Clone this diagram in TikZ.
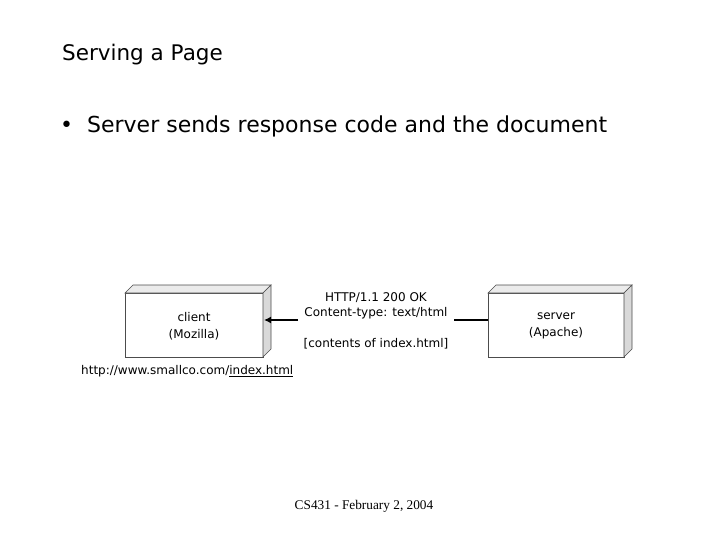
\documentclass[tikz,border=0pt]{standalone}
\usepackage{fontspec}
\usetikzlibrary{arrows.meta}
\setmainfont{DejaVu Sans}
\newfontfamily\footf{Liberation Serif}
\begin{document}
\begin{tikzpicture}[x=1pt,y=-1pt,
  lbl/.style={font=\fontsize{12}{14}\selectfont,inner sep=0pt},
  face/.style={draw=black!70,line width=0.6pt}]
\useasboundingbox (0,0) rectangle (720,540);
\node[anchor=west,inner sep=0pt,font=\fontsize{21.5}{24}\selectfont] (title) at (62,55) {Serving a Page};
\node[anchor=west,inner sep=0pt,font=\fontsize{22}{26}\selectfont] (bullet) at (60,126) {•\hspace{14pt}Server sends response code and the document};
% client box
\draw[face,fill=white] (125,293) rectangle (263,357);
\draw[face,fill=black!8] (125,293) -- (133,285) -- (271,285) -- (263,293) -- cycle;
\draw[face,fill=black!15] (263,293) -- (271,285) -- (271,349) -- (263,357) -- cycle;
\node[lbl,align=center] (client) at (194,326) {client\\[3pt](Mozilla)};
% server box
\draw[face,fill=white] (488,293) rectangle (624,357);
\draw[face,fill=black!8] (488,293) -- (496,285) -- (632,285) -- (624,293) -- cycle;
\draw[face,fill=black!15] (624,293) -- (632,285) -- (632,349) -- (624,357) -- cycle;
\node[lbl,align=center] (server) at (556,326) {server\\[3pt](Apache)};
\coordinate (sE) at (488,320);
\coordinate (cE) at (264,320);
\coordinate (g1) at (454,320);
\coordinate (g2) at (298,320);
\draw[line width=1.5pt] (sE) -- (g1);
\draw[line width=1.5pt,-{Latex[length=7pt,width=7pt]}] (g2) -- (cE);
\node[lbl] (h1) at (376,298) {HTTP/1.1 200 OK};
\node[lbl] (h2) at (376,313) {Content-type: text/html};
\node[lbl] (h3) at (376,344) {[contents of index.html]};
\node[lbl,anchor=west] (url) at (81,371) {http://www.smallco.com/\underline{index.html}};
\node[font=\footf\fontsize{13.3}{15}\selectfont,inner sep=0pt] (foot) at (364,506) {CS431 - February 2, 2004};
\end{tikzpicture}
\end{document}
